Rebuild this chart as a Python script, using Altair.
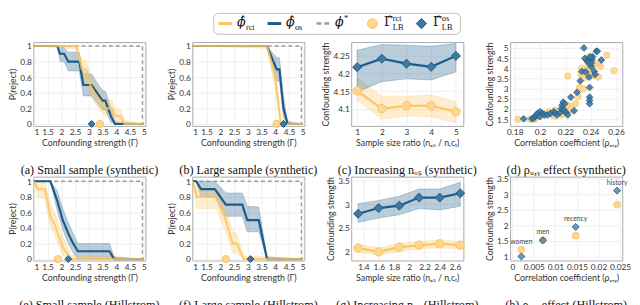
import altair as alt
import pandas as pd

ORANGE = "#FDC35E"
ORANGE_PT = "#FDD692"
BLUE = "#1C5A88"
BLUE_PT = "#3E79A3"
GRAY = "#9B9B9B"
SANS = "Lato"
SERIF = "Liberation Serif"
MATH = "DejaVu Serif"

GAMMA_TICKS = [1, 1.5, 2, 2.5, 3, 3.5, 4, 4.5, 5]
P_TICKS = [0, 0.2, 0.4, 0.6, 0.8, 1]

# ---------------- (a) small sample, synthetic ----------------
a_rct_g = [1.0, 2.55, 2.75, 2.9, 3.05, 3.2, 3.4, 3.6, 3.85, 3.95, 4.15, 4.3, 5.0]
a_rct_p = [1.0, 1.0, 0.7, 0.7, 0.5, 0.4, 0.3, 0.2, 0.2, 0.1, 0.1, 0.0, 0.0]
a_rct_lo = [1.0, 0.96, 0.58, 0.58, 0.38, 0.28, 0.18, 0.1, 0.1, 0.03, 0.02, 0.0, 0.0]
a_rct_hi = [1.0, 1.0, 0.82, 0.82, 0.62, 0.52, 0.42, 0.32, 0.3, 0.2, 0.18, 0.05, 0.0]
a_os_g = [1.0, 1.85, 1.95, 2.1, 2.25, 2.65, 2.8, 3.1, 3.3, 3.5, 3.6, 3.7, 3.8, 3.95, 5.0]
a_os_p = [1.0, 1.0, 0.9, 0.9, 0.8, 0.8, 0.5, 0.5, 0.4, 0.3, 0.3, 0.2, 0.1, 0.0, 0.0]
a_os_lo = [1.0, 1.0, 0.8, 0.8, 0.68, 0.68, 0.36, 0.36, 0.27, 0.18, 0.18, 0.1, 0.02, 0.0, 0.0]
a_os_hi = [1.0, 1.0, 1.0, 0.98, 0.92, 0.92, 0.65, 0.64, 0.53, 0.43, 0.42, 0.32, 0.2, 0.03, 0.0]
a_star, a_lb_rct, a_lb_os = 4.95, 3.4, 3.1

# ---------------- (b) large sample, synthetic ----------------
b_rct_g = [1.0, 3.7, 4.0, 4.2, 5.0]
b_rct_p = [1.0, 1.0, 0.6, 0.0, 0.0]
b_rct_lo = [1.0, 0.97, 0.45, 0.0, 0.0]
b_rct_hi = [1.0, 1.0, 0.72, 0.06, 0.0]
b_os_g = [1.0, 3.7, 4.05, 4.15, 4.3, 4.45, 5.0]
b_os_p = [1.0, 1.0, 0.7, 0.7, 0.2, 0.0, 0.0]
b_os_lo = [1.0, 1.0, 0.55, 0.55, 0.08, 0.0, 0.0]
b_os_hi = [1.0, 1.0, 0.85, 0.85, 0.35, 0.03, 0.0]
b_star, b_lb_rct, b_lb_os = 4.95, 4.05, 4.3

# ---------------- (e) small sample, Hillstrom ----------------
e_rct_g = [1.0, 1.15, 1.4, 1.6, 1.75, 1.9, 2.05, 2.15, 2.35, 5.0]
e_rct_p = [1.0, 0.9, 0.9, 0.55, 0.45, 0.3, 0.15, 0.1, 0.0, 0.0]
e_rct_lo = [1.0, 0.8, 0.78, 0.42, 0.32, 0.18, 0.05, 0.02, 0.0, 0.0]
e_rct_hi = [1.0, 1.0, 1.0, 0.7, 0.6, 0.45, 0.28, 0.22, 0.05, 0.0]
e_os_g = [1.0, 1.6, 1.85, 2.05, 2.25, 2.4, 2.6, 3.75, 3.92, 5.0]
e_os_p = [1.0, 1.0, 0.75, 0.5, 0.33, 0.22, 0.1, 0.1, 0.0, 0.0]
e_os_lo = [1.0, 1.0, 0.62, 0.38, 0.2, 0.1, 0.0, 0.0, 0.0, 0.0]
e_os_hi = [1.0, 1.0, 0.88, 0.65, 0.47, 0.35, 0.2, 0.2, 0.03, 0.0]
e_star, e_lb_rct, e_lb_os = 4.95, 1.87, 2.25

# ---------------- (f) large sample, Hillstrom ----------------
f_rct_g = [1.0, 1.15, 1.85, 2.2, 2.45, 2.6, 2.85, 5.0]
f_rct_p = [1.0, 0.8, 0.8, 0.5, 0.2, 0.2, 0.0, 0.0]
f_rct_lo = [1.0, 0.65, 0.65, 0.35, 0.08, 0.08, 0.0, 0.0]
f_rct_hi = [1.0, 0.92, 0.92, 0.65, 0.35, 0.33, 0.04, 0.0]
f_os_g = [1.0, 1.12, 1.3, 1.8, 2.2, 2.8, 2.98, 3.4, 3.7, 5.0]
f_os_p = [1.0, 1.0, 0.9, 0.9, 0.7, 0.7, 0.5, 0.5, 0.0, 0.0]
f_os_lo = [1.0, 1.0, 0.8, 0.8, 0.55, 0.55, 0.35, 0.35, 0.0, 0.0]
f_os_hi = [1.0, 1.0, 1.0, 1.0, 0.85, 0.85, 0.68, 0.67, 0.03, 0.0]
f_star, f_lb_rct, f_lb_os = 4.95, 2.2, 3.1

# ---------------- (c) increasing n_os, synthetic ----------------
c_x = [1, 2, 3, 4, 5]
c_os = [4.218, 4.242, 4.228, 4.219, 4.25]
c_os_lo = [4.148, 4.177, 4.185, 4.182, 4.205]
c_os_hi = [4.266, 4.282, 4.280, 4.277, 4.285]
c_rct = [4.151, 4.101, 4.109, 4.109, 4.092]
c_rct_lo = [4.125, 4.071, 4.080, 4.078, 4.062]
c_rct_hi = [4.189, 4.135, 4.136, 4.139, 4.121]

# ---------------- (g) increasing n_os, Hillstrom ----------------
g_x = [1.33, 1.6, 1.87, 2.13, 2.4, 2.67]
g_os = [2.80, 2.92, 2.97, 3.14, 3.14, 3.23]
g_os_lo = [2.62, 2.71, 2.78, 2.91, 2.88, 2.96]
g_os_hi = [3.01, 3.08, 3.17, 3.32, 3.32, 3.46]
g_rct = [2.08, 2.0, 2.1, 2.14, 2.17, 2.14]
g_rct_lo = [2.0, 1.93, 2.02, 2.06, 2.09, 2.06]
g_rct_hi = [2.16, 2.08, 2.18, 2.22, 2.25, 2.22]

# ---------------- (d) rho effect, synthetic ----------------
d_os_x = [0.187, 0.1935, 0.195, 0.196, 0.197, 0.198, 0.200, 0.2017, 0.1997, 0.2034,
          0.2058, 0.2083, 0.2108, 0.212, 0.2133, 0.2157, 0.2169, 0.2174, 0.2182, 0.2194,
          0.2189, 0.2206, 0.2218, 0.2243, 0.2268, 0.2292, 0.2317, 0.2329, 0.2346, 0.236,
          0.237, 0.2378, 0.2386, 0.2391, 0.2391, 0.2391, 0.2391, 0.2403, 0.241, 0.2428,
          0.2435, 0.2445, 0.2452, 0.2415, 0.2396, 0.2484, 0.2354, 0.2403]
d_os_y = [1.52, 1.52, 1.55, 1.63, 1.71, 1.79, 1.87, 1.79, 1.63, 1.71,
          1.71, 1.79, 1.87, 1.79, 1.71, 1.82, 2.02, 2.18, 2.34, 2.26,
          1.95, 1.82, 1.71, 2.58, 1.91, 2.82, 3.38, 3.85, 5.0, 3.82,
          4.41, 4.30, 3.57, 3.06, 2.58, 2.42, 2.26, 4.09, 4.41, 3.85,
          3.70, 4.84, 4.84, 4.57, 4.57, 4.41, 4.49, 4.25]
d_rct_x = [0.1825, 0.1918, 0.196, 0.1997, 0.2022, 0.2046, 0.2071, 0.2095, 0.212, 0.2145,
           0.2169, 0.2194, 0.2218, 0.2213, 0.2231, 0.2243, 0.2255, 0.228, 0.23, 0.2312,
           0.2322, 0.2329, 0.2342, 0.2354, 0.2366, 0.2378, 0.2391, 0.2403, 0.2415, 0.2428,
           0.2445, 0.246, 0.2465, 0.2477, 0.2526, 0.2583, 0.2386, 0.2403, 0.212, 0.2182,
           0.2366, 0.1967]
d_rct_y = [1.5, 1.5, 1.5, 1.63, 1.71, 1.79, 1.87, 1.71, 1.95, 1.87,
           1.71, 1.87, 3.62, 2.18, 2.02, 1.95, 2.14, 2.26, 2.61, 3.06,
           3.70, 4.01, 2.98, 3.54, 4.41, 4.09, 3.93, 3.62, 3.85, 4.17,
           3.62, 3.57, 4.25, 4.09, 4.65, 3.88, 4.57, 4.49, 1.66, 1.79,
           3.85, 1.6]

# ---------------- (h) rho effect, Hillstrom ----------------
h_labels = ["women", "men", "recency", "history"]
h_x = [0.0021, 0.0071, 0.0147, 0.0243]
h_rct = [1.22, 1.52, 1.67, 2.67]
h_os = [1.0, 1.52, 1.95, 3.12]

# ---------------- legend entries ----------------
leg_idx = [0, 1, 2, 3, 4]
leg_main = ["ϕ̂", "ϕ̂", "ϕ", "Γ̂", "Γ̂"]
leg_sub = ["rct", "os", "", "LB", "LB"]
leg_sup = ["", "", "*", "rct", "os"]

W, H = 115, 86


def cap(text):
    return alt.TitleParams(text, orient="bottom", offset=17, font=SERIF,
                           fontSize=12.5, fontWeight="normal", color="#111")


def reject_panel(rct, osv, gstar, lb_rct, lb_os, caption, ydom):
    rdf = pd.DataFrame({"g": rct[0], "p": rct[1], "lo": rct[2], "hi": rct[3]})
    odf = pd.DataFrame({"g": osv[0], "p": osv[1], "lo": osv[2], "hi": osv[3]})
    sdf = pd.DataFrame({"g": [1.0, gstar, gstar, 5.0], "p": [1, 1, 0, 0], "i": [0, 1, 2, 3]})
    mr = pd.DataFrame({"g": [lb_rct], "p": [0.0]})
    mo = pd.DataFrame({"g": [lb_os], "p": [0.0]})
    xs = alt.Scale(domain=[0.98, 5.06], nice=False, zero=False)
    ys = alt.Scale(domain=ydom, nice=False, zero=False)
    xa = alt.Axis(values=GAMMA_TICKS, format=".1~f", title="Confounding strength (Γ)")
    ya = alt.Axis(values=P_TICKS, format=".1~f", title="P(reject)")
    X = alt.X("g:Q", scale=xs, axis=xa)
    Y = alt.Y("p:Q", scale=ys, axis=ya)
    YL = alt.Y("lo:Q", scale=ys, axis=ya)
    layers = [
        alt.Chart(odf).mark_area(fill=BLUE, fillOpacity=0.3, stroke=BLUE, strokeOpacity=0.35,
                                 strokeWidth=0.7).encode(x=X, y=YL, y2="hi:Q"),
        alt.Chart(rdf).mark_area(fill=ORANGE, fillOpacity=0.3, stroke=ORANGE, strokeOpacity=0.4,
                                 strokeWidth=0.7).encode(x=X, y=YL, y2="hi:Q"),
        alt.Chart(sdf).mark_line(color=GRAY, strokeWidth=1.4, strokeDash=[4, 3]).encode(
            x=X, y=Y, order="i:Q"),
        alt.Chart(odf).mark_line(color=BLUE, strokeWidth=2.2).encode(x=X, y=Y),
        alt.Chart(rdf).mark_line(color=ORANGE, strokeWidth=2.2, opacity=0.8).encode(x=X, y=Y),
        alt.Chart(mr).mark_point(shape="circle", filled=True, size=55, fill=ORANGE_PT,
                                 stroke=ORANGE, strokeWidth=1, opacity=1).encode(x=X, y=Y),
        alt.Chart(mo).mark_point(shape="diamond", filled=True, size=50, fill=BLUE_PT,
                                 stroke=BLUE, strokeWidth=1, opacity=1).encode(x=X, y=Y),
    ]
    return alt.layer(*layers).properties(width=W, height=H, title=cap(caption))


def trend_panel(x, os_y, os_lo, os_hi, r_y, r_lo, r_hi, xdom, ydom, xticks, yticks,
                xfmt, yfmt, xtitle, caption):
    odf = pd.DataFrame({"x": x, "y": os_y, "lo": os_lo, "hi": os_hi})
    rdf = pd.DataFrame({"x": x, "y": r_y, "lo": r_lo, "hi": r_hi})
    xs = alt.Scale(domain=xdom, nice=False, zero=False)
    ys = alt.Scale(domain=ydom, nice=False, zero=False)
    xa = alt.Axis(values=xticks, format=xfmt, title=xtitle)
    ya = alt.Axis(values=yticks, format=yfmt, title="Confounding strength")
    X = alt.X("x:Q", scale=xs, axis=xa)
    Y = alt.Y("y:Q", scale=ys, axis=ya)
    YL = alt.Y("lo:Q", scale=ys, axis=ya)
    layers = [
        alt.Chart(rdf).mark_area(fill=ORANGE, fillOpacity=0.3, stroke=ORANGE, strokeOpacity=0.4,
                                 strokeWidth=0.7).encode(x=X, y=YL, y2="hi:Q"),
        alt.Chart(odf).mark_area(fill=BLUE, fillOpacity=0.3, stroke=BLUE, strokeOpacity=0.4,
                                 strokeWidth=0.7).encode(x=X, y=YL, y2="hi:Q"),
        alt.Chart(odf).mark_line(color=BLUE, strokeWidth=2.2).encode(x=X, y=Y),
        alt.Chart(odf).mark_point(shape="diamond", filled=True, size=85, fill=BLUE_PT,
                                  stroke=BLUE, strokeWidth=1, opacity=1).encode(x=X, y=Y),
        alt.Chart(rdf).mark_line(color=ORANGE, strokeWidth=2.2).encode(x=X, y=Y),
        alt.Chart(rdf).mark_point(shape="circle", filled=True, size=75, fill=ORANGE_PT,
                                  stroke=ORANGE, strokeWidth=1, opacity=1).encode(x=X, y=Y),
    ]
    return alt.layer(*layers).properties(width=W, height=H, title=cap(caption))


def scatter_panel(caption):
    rdf = pd.DataFrame({"x": d_rct_x, "y": d_rct_y})
    odf = pd.DataFrame({"x": d_os_x, "y": d_os_y})
    xs = alt.Scale(domain=[0.1763, 0.2649], nice=False, zero=False)
    ys = alt.Scale(domain=[1.17, 5.29], nice=False, zero=False)
    X = alt.X("x:Q", scale=xs, axis=alt.Axis(values=[0.18, 0.2, 0.22, 0.24, 0.26], format=".2~f",
                                             title="Correlation coefficient (ρᵤ,ᵧ)"))
    Y = alt.Y("y:Q", scale=ys, axis=alt.Axis(values=[1.5, 2, 2.5, 3, 3.5, 4, 4.5, 5], format=".1~f",
                                             title="Confounding strength"))
    layers = [
        alt.Chart(rdf).mark_point(shape="circle", filled=True, size=42, fill=ORANGE_PT,
                                  stroke=ORANGE, strokeWidth=0.8, opacity=0.9).encode(x=X, y=Y),
        alt.Chart(odf).mark_point(shape="diamond", filled=True, size=48, fill=BLUE_PT,
                                  stroke=BLUE, strokeWidth=0.9, opacity=0.9).encode(x=X, y=Y),
    ]
    return alt.layer(*layers).properties(width=W, height=H, title=cap(caption))


def hill_scatter_panel(caption):
    df = pd.DataFrame({"label": h_labels, "x": h_x, "rct": h_rct, "os": h_os})
    df["top"] = df[["rct", "os"]].max(axis=1)
    xs = alt.Scale(domain=[-0.0005, 0.0255], nice=False, zero=False)
    ys = alt.Scale(domain=[0.87, 3.57], nice=False, zero=False)
    xa = alt.Axis(values=[0, 0.005, 0.01, 0.015, 0.02, 0.025], format=".3~f",
                  title="Correlation coefficient (ρᵤ,ᵧ)")
    ya = alt.Axis(values=[1, 1.5, 2, 2.5, 3, 3.5], format=".1~f", title="Confounding strength")
    X = alt.X("x:Q", scale=xs, axis=xa)
    layers = [
        alt.Chart(df).mark_point(shape="circle", filled=True, size=50, fill=ORANGE_PT,
                                 stroke=ORANGE, strokeWidth=0.8, opacity=1).encode(
            x=X, y=alt.Y("rct:Q", scale=ys, axis=ya)),
        alt.Chart(df).mark_point(shape="diamond", filled=True, size=50, fill=BLUE_PT,
                                 stroke=BLUE, strokeWidth=1, fillOpacity=0.75,
                                 strokeOpacity=0.9).encode(
            x=X, y=alt.Y("os:Q", scale=ys, axis=ya)),
        alt.Chart(df).mark_text(dy=-8, fontSize=7, font=SANS, color="#444").encode(
            x=X, y=alt.Y("top:Q", scale=ys, axis=ya), text="label:N"),
    ]
    return alt.layer(*layers).properties(width=W, height=H, title=cap(caption))


pa = reject_panel((a_rct_g, a_rct_p, a_rct_lo, a_rct_hi), (a_os_g, a_os_p, a_os_lo, a_os_hi),
                  a_star, a_lb_rct, a_lb_os, "(a) Small sample (synthetic)", [-0.025, 1.05])
pb = reject_panel((b_rct_g, b_rct_p, b_rct_lo, b_rct_hi), (b_os_g, b_os_p, b_os_lo, b_os_hi),
                  b_star, b_lb_rct, b_lb_os, "(b) Large sample (synthetic)", [-0.025, 1.05])
pc = trend_panel(c_x, c_os, c_os_lo, c_os_hi, c_rct, c_rct_lo, c_rct_hi,
                 [0.76, 5.3], [4.052, 4.289], [1, 2, 3, 4, 5], [4.1, 4.15, 4.2, 4.25],
                 "d", ".2~f", "Sample size ratio (nₒₛ / nᵣcₜ)", "(c) Increasing nₒₛ (synthetic)")
pd_ = scatter_panel("(d) ρᵤ,ᵧ effect (synthetic)")
pe = reject_panel((e_rct_g, e_rct_p, e_rct_lo, e_rct_hi), (e_os_g, e_os_p, e_os_lo, e_os_hi),
                  e_star, e_lb_rct, e_lb_os, "(e) Small sample (Hillstrom)", [-0.018, 1.06])
pf = reject_panel((f_rct_g, f_rct_p, f_rct_lo, f_rct_hi), (f_os_g, f_os_p, f_os_lo, f_os_hi),
                  f_star, f_lb_rct, f_lb_os, "(f) Large sample (Hillstrom)", [-0.018, 1.06])
pg = trend_panel(g_x, g_os, g_os_lo, g_os_hi, g_rct, g_rct_lo, g_rct_hi,
                 [1.24, 2.71], [1.82, 3.58], [1.4, 1.6, 1.8, 2, 2.2, 2.4, 2.6], [2, 2.5, 3, 3.5],
                 ".1~f", ".1~f", "Sample size ratio (nₒₛ / nᵣcₜ)", "(g) Increasing nₒₛ (Hillstrom)")
ph = hill_scatter_panel("(h) ρᵤ,ᵧ effect (Hillstrom)")

grid = alt.ConcatChart(concat=[pa, pb, pc, pd_, pe, pf, pg, ph], columns=4,
                       spacing={"row": 52, "column": 48}, bounds="flush")

# ---------------- legend ----------------
ldf = pd.DataFrame({"idx": leg_idx, "main": leg_main, "sub": leg_sub, "sup": leg_sup})
LX = alt.X("idx:Q", scale=alt.Scale(domain=[-3.92, 8.02], nice=False, zero=False), axis=None)
LY = alt.value(11)
lbase = alt.Chart(ldf)
box = alt.Chart(alt.Data(values=[{"k": 1}])).mark_rect(
    fill="white", stroke="#BDBDBD", strokeWidth=1, cornerRadius=5).encode(
    x=alt.value(185), x2=alt.value(438), y=alt.value(0.5), y2=alt.value(22))
leg_layers = [
    box,
    lbase.transform_filter(alt.datum.idx == 0).mark_point(
        shape="stroke", size=196, strokeWidth=3, color=ORANGE, opacity=1).encode(x=LX, y=LY),
    lbase.transform_filter(alt.datum.idx == 1).mark_point(
        shape="stroke", size=196, strokeWidth=3, color=BLUE, opacity=1).encode(x=LX, y=LY),
    lbase.transform_filter(alt.datum.idx == 2).mark_point(
        shape="stroke", size=196, strokeWidth=2.5, color=GRAY, strokeDash=[5, 3],
        opacity=1).encode(x=LX, y=LY),
    lbase.transform_filter(alt.datum.idx == 3).mark_point(
        shape="circle", filled=True, size=100, fill=ORANGE_PT, stroke=ORANGE, strokeWidth=1,
        opacity=1).encode(x=LX, y=LY),
    lbase.transform_filter(alt.datum.idx == 4).mark_point(
        shape="diamond", filled=True, size=110, fill=BLUE_PT, stroke=BLUE, strokeWidth=1,
        opacity=1).encode(x=LX, y=LY),
    lbase.transform_filter(alt.datum.idx < 3).mark_text(
        align="left", dx=12, font=MATH, fontSize=13, fontStyle="italic", color="#111").encode(
        x=LX, y=alt.value(10), text="main:N"),
    lbase.transform_filter(alt.datum.idx >= 3).mark_text(
        align="left", dx=12, font=MATH, fontSize=13, color="#111").encode(
        x=LX, y=alt.value(10), text="main:N"),
    lbase.mark_text(align="left", dx=21, font=SERIF, fontSize=8.5, color="#111").encode(
        x=LX, y=alt.value(15), text="sub:N"),
    lbase.mark_text(align="left", dx=21, font=SERIF, fontSize=8.5, color="#111").encode(
        x=LX, y=alt.value(5.5), text="sup:N"),
]
legend = alt.layer(*leg_layers).properties(width=600, height=22,
                                            view=alt.ViewBackground(stroke="transparent"))

chart = alt.vconcat(legend, grid, spacing=6).properties(padding=0).configure_view(
    stroke="#A8A8A8", strokeWidth=1
).configure_axis(
    labelFont=SANS, labelFontSize=8.5, labelColor="#333", labelPadding=2,
    titleFont=SANS, titleFontSize=9, titleFontWeight="normal", titleColor="#333",
    titlePadding=2, gridColor="#ECECEC", gridWidth=0.8, ticks=False, domain=False
).configure_axisX(titlePadding=3)

chart.save("out.html", embed_options={"renderer": "svg", "actions": False})
